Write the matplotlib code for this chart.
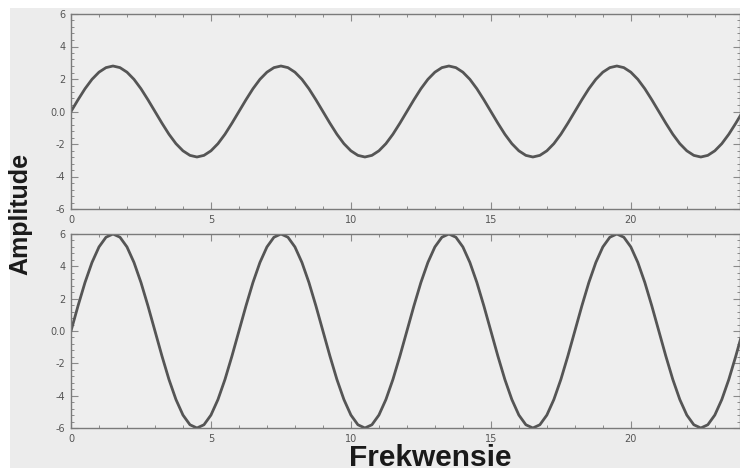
import matplotlib
matplotlib.use("Agg")
import matplotlib.pyplot as plt
from matplotlib.patches import Rectangle
from matplotlib.ticker import AutoMinorLocator, FuncFormatter

# ---- data ----
frequency = [0.0, 0.25, 0.5, 0.75, 1.0, 1.25, 1.5, 1.75, 2.0, 2.25, 2.5, 2.75,
             3.0, 3.25, 3.5, 3.75, 4.0, 4.25, 4.5, 4.75, 5.0, 5.25, 5.5, 5.75,
             6.0, 6.25, 6.5, 6.75, 7.0, 7.25, 7.5, 7.75, 8.0, 8.25, 8.5, 8.75,
             9.0, 9.25, 9.5, 9.75, 10.0, 10.25, 10.5, 10.75, 11.0, 11.25, 11.5, 11.75,
             12.0, 12.25, 12.5, 12.75, 13.0, 13.25, 13.5, 13.75, 14.0, 14.25, 14.5, 14.75,
             15.0, 15.25, 15.5, 15.75, 16.0, 16.25, 16.5, 16.75, 17.0, 17.25, 17.5, 17.75,
             18.0, 18.25, 18.5, 18.75, 19.0, 19.25, 19.5, 19.75, 20.0, 20.25, 20.5, 20.75,
             21.0, 21.25, 21.5, 21.75, 22.0, 22.25, 22.5, 22.75, 23.0, 23.25, 23.5, 23.75,
             24.0]

amplitude_top = [0.0, 0.72, 1.4, 1.98, 2.42, 2.7, 2.8, 2.7, 2.42, 1.98, 1.4, 0.72,
                 0.0, -0.72, -1.4, -1.98, -2.42, -2.7, -2.8, -2.7, -2.42, -1.98, -1.4, -0.72,
                 0.0, 0.72, 1.4, 1.98, 2.42, 2.7, 2.8, 2.7, 2.42, 1.98, 1.4, 0.72,
                 0.0, -0.72, -1.4, -1.98, -2.42, -2.7, -2.8, -2.7, -2.42, -1.98, -1.4, -0.72,
                 0.0, 0.72, 1.4, 1.98, 2.42, 2.7, 2.8, 2.7, 2.42, 1.98, 1.4, 0.72,
                 0.0, -0.72, -1.4, -1.98, -2.42, -2.7, -2.8, -2.7, -2.42, -1.98, -1.4, -0.72,
                 0.0, 0.72, 1.4, 1.98, 2.42, 2.7, 2.8, 2.7, 2.42, 1.98, 1.4, 0.72,
                 0.0, -0.72, -1.4, -1.98, -2.42, -2.7, -2.8, -2.7, -2.42, -1.98, -1.4, -0.72,
                 0.0]

amplitude_bottom = [0.0, 1.55, 3.0, 4.24, 5.2, 5.8, 6.0, 5.8, 5.2, 4.24, 3.0, 1.55,
                    0.0, -1.55, -3.0, -4.24, -5.2, -5.8, -6.0, -5.8, -5.2, -4.24, -3.0, -1.55,
                    0.0, 1.55, 3.0, 4.24, 5.2, 5.8, 6.0, 5.8, 5.2, 4.24, 3.0, 1.55,
                    0.0, -1.55, -3.0, -4.24, -5.2, -5.8, -6.0, -5.8, -5.2, -4.24, -3.0, -1.55,
                    0.0, 1.55, 3.0, 4.24, 5.2, 5.8, 6.0, 5.8, 5.2, 4.24, 3.0, 1.55,
                    0.0, -1.55, -3.0, -4.24, -5.2, -5.8, -6.0, -5.8, -5.2, -4.24, -3.0, -1.55,
                    0.0, 1.55, 3.0, 4.24, 5.2, 5.8, 6.0, 5.8, 5.2, 4.24, 3.0, 1.55,
                    0.0, -1.55, -3.0, -4.24, -5.2, -5.8, -6.0, -5.8, -5.2, -4.24, -3.0, -1.55,
                    0.0]

x_ticks = [0, 5, 10, 15, 20]
y_ticks = [-6, -4, -2, 0, 2, 4, 6]
x_label = "Frekwensie"
y_label = "Amplitude"

# ---- figure ----
W, H = 740, 475
fig = plt.figure(figsize=(W / 100, H / 100), dpi=100)
fig.patch.set_facecolor("white")
bg = Rectangle((10 / W, (H - 468) / H), 1 - 10 / W, (468 - 8) / H,
               transform=fig.transFigure, facecolor="#ececec", edgecolor="none", zorder=-10)
fig.patches.append(bg)

def ytick_fmt(v, pos):
    return "0.0" if abs(v) < 1e-9 else "%d" % v

def style(ax):
    ax.set_facecolor("#eeeeee")
    ax.set_xlim(0, 23.9)
    ax.set_ylim(-6, 6)
    ax.set_xticks(x_ticks)
    ax.set_yticks(y_ticks)
    ax.yaxis.set_major_formatter(FuncFormatter(ytick_fmt))
    ax.xaxis.set_minor_locator(AutoMinorLocator(5))
    ax.yaxis.set_minor_locator(AutoMinorLocator(5))
    ax.tick_params(which="both", direction="in", top=True, right=True,
                   color="#8a8a8a", labelsize=7, labelcolor="#555555", pad=4)
    ax.tick_params(which="major", length=5, width=0.8)
    ax.tick_params(which="minor", length=2.5, width=0.7)
    for s in ax.spines.values():
        s.set_color("#7a7a7a")
        s.set_linewidth(1.0)

ax1 = fig.add_axes([71 / W, (H - 209) / H, (W - 71) / W, 195 / H])
ax2 = fig.add_axes([71 / W, (H - 428) / H, (W - 71) / W, 194 / H])
for ax in (ax1, ax2):
    style(ax)

ax1.plot(frequency, amplitude_top, color="#555555", lw=2.0, solid_capstyle="round")
ax2.plot(frequency, amplitude_bottom, color="#555555", lw=2.0, solid_capstyle="round")

fig.text(20 / W, (H - 214) / H, y_label, rotation=90, ha="center", va="center",
         fontsize=18, fontweight="bold", family=["Liberation Sans", "DejaVu Sans"],
         color="#1a1a1a")
fig.text(430 / W, (H - 458) / H, x_label, ha="center", va="center",
         fontsize=21.5, fontweight="bold", family=["Liberation Sans", "DejaVu Sans"],
         color="#1a1a1a")

fig.savefig("out.png", dpi=100)
